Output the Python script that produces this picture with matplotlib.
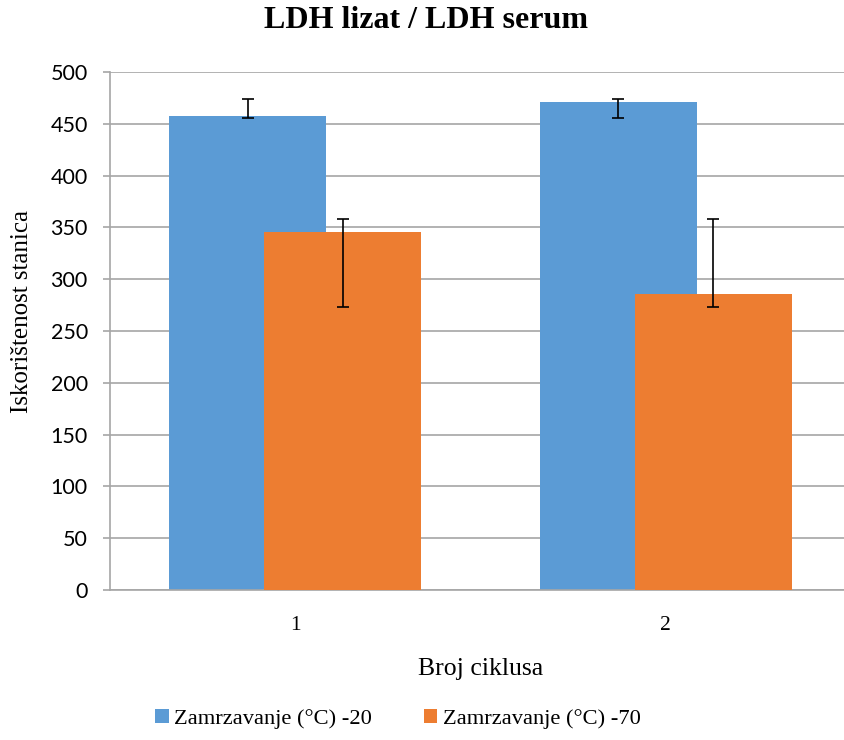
import numpy as np
import matplotlib
matplotlib.use("Agg")
import matplotlib.pyplot as plt

# values
cycles = ["1", "2"]
series_names = ["Zamrzavanje (°C) -20", "Zamrzavanje (°C) -70"]
minus20 = np.array([457.5, 470.7])
minus20_low = np.array([455.6, 455.6])
minus20_high = np.array([474.0, 474.0])
minus70 = np.array([345.9, 285.7])
minus70_low = np.array([273.5, 273.5])
minus70_high = np.array([358.4, 358.4])

blue = "#5B9BD5"
orange = "#ED7D31"
grid_col = "#a6a6a6"
serif = ["Liberation Serif", "DejaVu Serif"]

fig = plt.figure(figsize=(8.44, 7.40), dpi=100)
ax = fig.add_axes([110 / 844, 1 - 590 / 740, 741 / 844, 518 / 740])

x = np.arange(1, len(cycles) + 1)
width = 0.424
offset = 0.128

err_kw = dict(ecolor="black", capsize=4.3, error_kw=dict(elinewidth=1.2, capthick=1.2))
ax.bar(x - offset, minus20, width, color=blue, label=series_names[0],
       yerr=[minus20 - minus20_low, minus20_high - minus20], zorder=2, **err_kw)
ax.bar(x + offset, minus70, width, color=orange, label=series_names[1],
       yerr=[minus70 - minus70_low, minus70_high - minus70], zorder=3, **err_kw)

ax.set_xlim(0.5, 2.5)
ax.set_ylim(0, 500)
ax.set_yticks(np.arange(0, 501, 50))
ax.set_xticks(x)
ax.set_xticklabels(cycles, fontfamily=serif, fontsize=15.5)
for lab in ax.get_yticklabels():
    lab.set_fontfamily(["Lato", "DejaVu Sans"])
    lab.set_fontsize(15.5)

ax.yaxis.grid(True, color=grid_col, linewidth=1.2, zorder=0)
ax.set_axisbelow(True)
for s in ["top", "right"]:
    ax.spines[s].set_visible(False)
for s in ["left", "bottom"]:
    ax.spines[s].set_color(grid_col)
    ax.spines[s].set_linewidth(1.2)
ax.tick_params(axis="y", length=5, color=grid_col, width=1.2, pad=11)
ax.tick_params(axis="x", length=0, pad=19)

ax.set_xlabel("Broj ciklusa", fontfamily=serif, fontsize=18.5, labelpad=16)
ax.set_ylabel("Iskorištenost stanica", fontfamily=serif, fontsize=18)
ax.yaxis.set_label_coords(-0.104, 0.537)

fig.text(426 / 844, 1 - 21 / 740, "LDH lizat / LDH serum", ha="center", va="center",
         fontfamily=serif, fontweight="bold", fontsize=23)

fig.legend(loc="center", bbox_to_anchor=(398 / 844, 1 - 719 / 740), ncol=2,
           frameon=False, prop=dict(family=serif, size=16.2),
           handlelength=0.6, handleheight=0.6, handletextpad=0.25, columnspacing=2.3)

fig.savefig("out.png", dpi=100)
